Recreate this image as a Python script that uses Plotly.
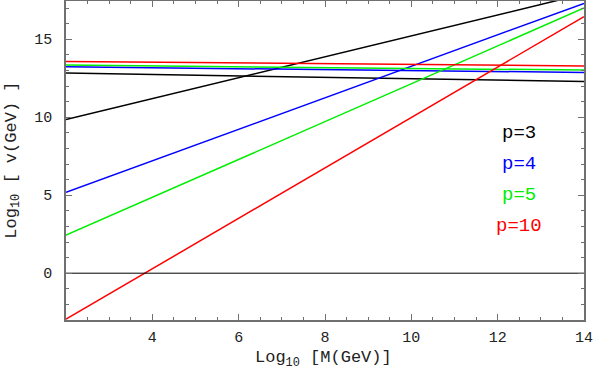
import plotly.graph_objects as go

# Log10 M (GeV) end points of every line
x_ends = [2, 14]

# rising lines (one per p), values read at x = 2 and x = 14
rise_p3 = [9.85, 17.9]
rise_p4 = [5.19, 17.3]
rise_p5 = [2.44, 17.0]
rise_p10 = [-2.95, 16.45]

# almost flat lines (one per p)
flat_p3 = [12.83, 12.29]
flat_p4 = [13.23, 12.87]
flat_p5 = [13.34, 13.02]
flat_p10 = [13.57, 13.29]

labels = ["p=3", "p=4", "p=5", "p=10"]
label_y = [9, 7, 5, 3]
label_x = 12.5
colors = ["black", "#0000ff", "#00ee00", "#ff0000"]

FONT = "Liberation Mono, Courier New, monospace"
FRAME = "#707070"

fig = go.Figure()

rises = [rise_p3, rise_p4, rise_p5, rise_p10]
flats = [flat_p3, flat_p4, flat_p5, flat_p10]
for r, f, c in zip(rises, flats, colors):
    fig.add_trace(go.Scatter(x=x_ends, y=r, mode="lines",
                             line=dict(color=c, width=1.5), showlegend=False))
    fig.add_trace(go.Scatter(x=x_ends, y=f, mode="lines",
                             line=dict(color=c, width=1.5), showlegend=False))

# y = 0 reference line
fig.add_trace(go.Scatter(x=x_ends, y=[0, 0], mode="lines",
                         line=dict(color="black", width=1), showlegend=False))

for t, y, c in zip(labels, label_y, colors):
    fig.add_annotation(x=label_x, y=y, text=t, showarrow=False,
                       font=dict(family=FONT, size=19, color=c))

# axis titles as paper annotations so their place is fixed
fig.add_annotation(x=0.497, y=-0.122, xref="paper", yref="paper",
                   text="Log<sub>10</sub> [M(GeV)]", showarrow=False,
                   xanchor="center", yanchor="middle",
                   font=dict(family=FONT, size=17, color="#222"))
fig.add_annotation(x=-0.104, y=0.5, xref="paper", yref="paper",
                   text="Log<sub>10</sub> [ v(GeV) ]", showarrow=False,
                   textangle=-90, xanchor="center", yanchor="middle",
                   font=dict(family=FONT, size=17, color="#222"))

axis_common = dict(
    showgrid=False, zeroline=False, showline=True, linecolor=FRAME,
    linewidth=1.5, mirror="allticks", ticks="inside", ticklen=6,
    tickcolor=FRAME, tickwidth=1, automargin=False,
    ticklabeloverflow="allow",
    tickfont=dict(family=FONT, size=15, color="#222"),
)

fig.update_layout(
    width=600, height=371,
    margin=dict(l=66, r=16, t=1, b=51),
    plot_bgcolor="white", paper_bgcolor="white",
    xaxis=dict(range=[2, 14], tickvals=[4, 6, 8, 10, 12, 14],
               ticklabelstandoff=2,
               minor=dict(dtick=0.5, tick0=2, ticks="inside", ticklen=3, tickcolor=FRAME),
               **axis_common),
    yaxis=dict(range=[-3, 17.45], tickvals=[0, 5, 10, 15],
               ticklabelstandoff=9,
               minor=dict(dtick=1, tick0=0, ticks="inside", ticklen=3, tickcolor=FRAME),
               **axis_common),
)

# the page body has a default 8px margin; drop it so the figure sits at 0,0
fig.write_html("out.html", config={"displayModeBar": False},
               post_script="document.body.style.margin='0';")
